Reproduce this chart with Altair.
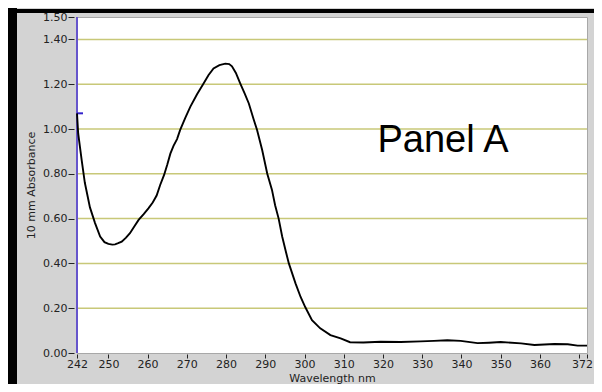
import altair as alt
import pandas as pd

# Spectrum
wavelength = [242.0, 242.3, 243.2, 244.0, 245.3, 246.6, 247.9, 249.0, 250.0, 251.0,
              251.7, 252.5, 253.4, 254.5, 255.5, 256.6, 257.7, 259.0, 260.2, 261.3,
              262.3, 263.2, 264.2, 265.0, 265.8, 266.6, 267.5, 268.3, 269.6, 270.9,
              272.6, 274.3, 275.5, 276.8, 278.3, 279.8, 280.8, 281.5, 282.5, 283.6,
              284.7, 285.8, 287.0, 287.9, 289.2, 290.5, 291.7, 292.5, 293.4, 294.3,
              295.2, 296.0, 297.7, 299.0, 300.2, 301.9, 304.0, 306.6, 309.2, 311.6,
              315.0, 319.4, 324.5, 329.6, 333.0, 336.4, 339.8, 344.1, 347.0, 350.0,
              355.2, 358.6, 363.7, 367.1, 369.6, 372.0]
absorbance = [1.07, 0.98, 0.86, 0.76, 0.65, 0.58, 0.52, 0.495, 0.487, 0.484,
              0.485, 0.49, 0.497, 0.515, 0.535, 0.565, 0.594, 0.62, 0.646, 0.672,
              0.703, 0.75, 0.795, 0.84, 0.89, 0.925, 0.955, 0.996, 1.05, 1.10,
              1.155, 1.204, 1.24, 1.27, 1.285, 1.292, 1.29, 1.28, 1.25, 1.204,
              1.16, 1.114, 1.045, 0.996, 0.906, 0.80, 0.728, 0.66, 0.60, 0.52,
              0.455, 0.40, 0.311, 0.25, 0.204, 0.147, 0.11, 0.08, 0.065, 0.048,
              0.047, 0.05, 0.049, 0.052, 0.054, 0.057, 0.054, 0.044, 0.046, 0.049,
              0.043, 0.036, 0.04, 0.039, 0.033, 0.033]

x_ticks = [242, 250, 260, 270, 280, 290, 300, 310, 320, 330, 340, 350, 360, 370, 372]
y_ticks = [0.0, 0.2, 0.4, 0.6, 0.8, 1.0, 1.2, 1.4, 1.5]
grid_values = [0.2, 0.4, 0.6, 0.8, 1.0, 1.2, 1.4]
marker_value = [1.07]
panel_label = ["Panel A"]
panel_pos_x = [318.6]
panel_pos_y = [0.897]

spec = pd.DataFrame({"wl": wavelength, "abs": absorbance})
grid_df = pd.DataFrame({"wl": [242.0] * len(grid_values), "abs": grid_values})
marker_df = pd.DataFrame({"abs": marker_value})
label_df = pd.DataFrame({"t": panel_label, "wl": panel_pos_x, "abs": panel_pos_y})
one = pd.DataFrame({"k": [0]})

W, H = 510, 336
PL, PT, PR, PB = 69, 9, 7, 31

xs = alt.Scale(domain=[242, 372], nice=False, zero=False)
ys = alt.Scale(domain=[0, 1.5], nice=False, zero=False)
FONT = "DejaVu Sans"

x_axis = alt.Axis(
    values=x_ticks, title="Wavelength nm", domain=False, grid=False,
    tickSize=4, offset=1, tickColor="#222", labelPadding=0,
    labelExpr="datum.value == 370 ? '' : datum.label",
    labelOffset={"condition": {"test": "datum.value == 372", "value": -5}, "value": 0},
    labelFlush=False, labelOverlap=False,
    labelFont=FONT, labelFontSize=11, labelColor="#222",
    titleFont=FONT, titleFontSize=11, titleFontWeight="normal",
    titleColor="#222", titleBaseline="alphabetic", titleY=27.5)
y_axis = alt.Axis(
    values=y_ticks, format=".2f", title="10 mm Absorbance", domain=False,
    grid=False, tickSize=6, offset=3, tickColor="#222", labelPadding=1,
    labelFlush=False, labelOverlap=False,
    labelFont=FONT, labelFontSize=11, labelColor="#222",
    titleFont=FONT, titleFontSize=11, titleFontWeight="normal",
    titleColor="#222", titlePadding=6)

X = alt.X("wl:Q", scale=xs, axis=x_axis)
Y = alt.Y("abs:Q", scale=ys, axis=y_axis)

frame_left = alt.Chart(one).mark_rect(color="black").encode(
    x=alt.value(-PL), x2=alt.value(-PL + 9),
    y=alt.value(-PT), y2=alt.value(H + PB))
frame_top = alt.Chart(one).mark_rect(color="black").encode(
    x=alt.value(-PL), x2=alt.value(W + PR),
    y=alt.value(-PT + 1), y2=alt.value(-PT + 5))

grid = alt.Chart(grid_df).mark_rule(color="#c8c878", strokeWidth=1.5).encode(
    y=Y, x=alt.value(0), x2=alt.value(W))

left_line = alt.Chart(one).mark_rule(color="#6655cc", strokeWidth=2).encode(
    x=alt.value(0), y=alt.value(0), y2=alt.value(H))

marker = alt.Chart(marker_df).mark_rule(color="#3322cc", strokeWidth=2).encode(
    x=alt.value(0), x2=alt.value(6), y=Y)

line = alt.Chart(spec).mark_line(color="black", strokeWidth=1.9).encode(
    x=X, y=Y, order="wl:Q")

text = alt.Chart(label_df).mark_text(
    font="Liberation Sans", fontSize=38,
    align="left", baseline="alphabetic", color="black").encode(
    x=X, y=Y, text="t:N")

chart = alt.layer(frame_left, frame_top, grid, left_line, marker, line, text).properties(
    width=W, height=H,
    autosize=alt.AutoSizeParams(type="none"),
    padding={"left": PL, "top": PT, "right": PR, "bottom": PB},
    background="#d3d3d3",
).configure_view(fill="white", stroke="#a8a8a8", strokeWidth=1)

chart.save("out.html", embed_options={"renderer": "svg", "actions": False})
